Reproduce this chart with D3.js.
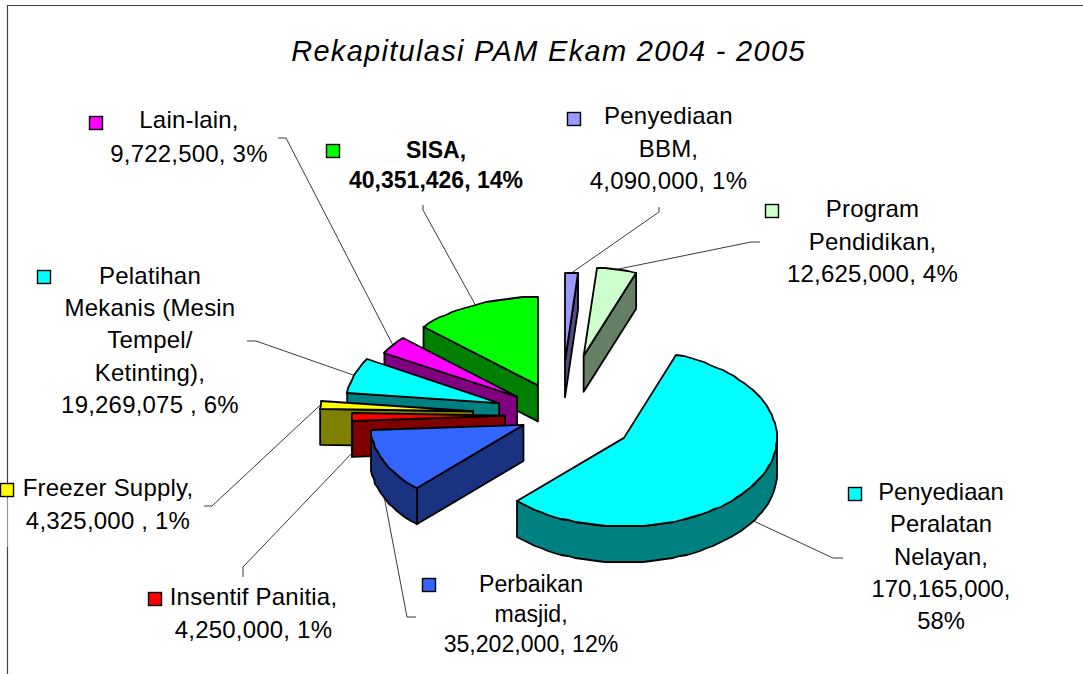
<!DOCTYPE html>
<html>
<head>
<meta charset="utf-8">
<script src="https://cdnjs.cloudflare.com/ajax/libs/d3/7.8.5/d3.min.js"></script>
<style>
html, body { margin: 0; padding: 0; background: #fff; }
svg { display: block; }
text { font-family: "Liberation Sans", Arial, sans-serif; fill: #000; }
</style>
</head>
<body>
<div id="chart"></div>
<script>
var categories = ['Penyediaan BBM', 'Program Pendidikan', 'Penyediaan Peralatan Nelayan', 'Perbaikan masjid',
    'Insentif Panitia', 'Freezer Supply', 'Pelatihan Mekanis (Mesin Tempel/ Ketinting)', 'Lain-lain', 'SISA'];
var values = [4090000, 12625000, 170165000, 35202000, 4250000, 4325000, 19269075, 9722500, 40351426];
var colors = ['#9999ff', '#ccffcc', '#00ffff', '#3366ff', '#ff0000', '#ffff00', '#00ffff', '#ff00ff', '#00ff00'];
var explode = [0.607, 0.685, 0.486, 0.27, 0.366, 0.576, 0.426, 0.354, 0.367];

// text of the labels, one entry per line
var labelLines = [
    ['Penyediaan', 'BBM,', '4,090,000, 1%'],
    ['Program', 'Pendidikan,', '12,625,000, 4%'],
    ['Penyediaan', 'Peralatan', 'Nelayan,', '170,165,000,', '58%'],
    ['Perbaikan', 'masjid,', '35,202,000, 12%'],
    ['Insentif Panitia,', '4,250,000, 1%'],
    ['Freezer Supply,', '4,325,000 , 1%'],
    ['Pelatihan', 'Mekanis (Mesin', 'Tempel/', 'Ketinting),', '19,269,075 , 6%'],
    ['Lain-lain,', '9,722,500, 3%'],
    ['SISA,', '40,351,426, 14%']
];

var width = 1083;
var height = 674;
var cx = 561;
var cy = 415;
var rx = 153;
var ry = 88.5;
var depth = 36;

// label layout: x centre and baseline of each line, key square, leader elbow points
var labelX = [668.5, 872.5, 941, 531, 253.5, 108, 150, 189, 436];
var labelY = [
    [124, 157, 189], [217, 250, 282], [500, 532, 565, 597, 629], [592, 622, 652],
    [605, 638], [496, 529], [284, 316, 348, 381, 413], [128, 162], [158, 188]
];
var labelSize = [24, 24, 23.8, 23.1, 24, 24, 24, 24, 23];
var keys = [[567, 112], [765, 204], [848, 487], [422, 578], [148, 592], [0, 483], [37, 270], [89, 116], [326, 144]];
var elbows = [
    [[659, 207], [659, 212]],
    [[760, 242], [751, 242]],
    [[843, 558], [833, 558]],
    [[416, 617], [407, 617]],
    [[243, 577], [243, 567]],
    [[204, 506], [212, 506]],
    [[247, 341], [256, 341]],
    [[278, 138], [286, 138]],
    [[423, 205], [423, 210]]
];

var svg = d3.select('#chart')
    .append('svg')
    .attr('width', width)
    .attr('height', height);

// frame of the chart area
svg.append('path')
    .attr('d', 'M7.5,674V5.5H1083')
    .attr('fill', 'none')
    .attr('stroke', '#404040')
    .attr('stroke-width', 1.2);

var pie = d3.pie().sort(null);
var slices = pie(values).map(function (d, i) {
    var mid = (d.startAngle + d.endAngle) / 2;
    return {
        index: i,
        start: d.startAngle,
        end: d.endAngle,
        mid: mid,
        x: cx + rx * explode[i] * Math.sin(mid),
        y: cy - ry * explode[i] * Math.cos(mid)
    };
});

function rim(s, a, drop) {
    return [s.x + rx * Math.sin(a), s.y - ry * Math.cos(a) + (drop || 0)];
}

// rounded to whole pixels, the rim of the reference is a little rough
function arcPoints(s, a0, a1, drop) {
    var n = Math.max(1, Math.round((a1 - a0) / 0.05));
    return d3.range(n + 1).map(function (k) {
        var p = rim(s, a0 + (a1 - a0) * k / n, drop);
        return [Math.round(p[0]), Math.round(p[1])];
    });
}

var line = d3.line();

function darker(c) {
    var r = d3.rgb(c);
    return d3.rgb(r.r / 2, r.g / 2, r.b / 2).formatHex();
}

// painted from the back to the front
var order = slices.slice().sort(function (a, b) {
    return d3.ascending(-Math.cos(a.mid), -Math.cos(b.mid));
});

var pieces = svg.selectAll('.slice')
    .data(order)
    .enter()
    .append('g')
    .attr('class', 'slice')
    .attr('stroke', '#000')
    .attr('stroke-width', 1.8)
    .attr('stroke-linejoin', 'round');

pieces.each(function (s) {
    var g = d3.select(this);
    var side = darker(colors[s.index]);
    var apex = [s.x, s.y];
    var apexLow = [s.x, s.y + depth];

    // cut walls, only the ones turned to the viewer
    if (Math.sin(s.start) < 0) {
        g.append('path')
            .attr('fill', side)
            .attr('d', line([apex, rim(s, s.start), rim(s, s.start, depth), apexLow]) + 'Z');
    }
    if (Math.sin(s.end) > 0) {
        g.append('path')
            .attr('fill', side)
            .attr('d', line([apex, rim(s, s.end), rim(s, s.end, depth), apexLow]) + 'Z');
    }

    // outer wall on the front half
    var a0 = Math.max(s.start, Math.PI / 2);
    var a1 = Math.min(s.end, Math.PI * 1.5);
    if (a1 > a0) {
        var wall = arcPoints(s, a0, a1).concat(arcPoints(s, a0, a1, depth).reverse());
        g.append('path')
            .attr('fill', side)
            .attr('d', line(wall) + 'Z');
    }

    // top face
    g.append('path')
        .attr('fill', colors[s.index])
        .attr('d', line([apex].concat(arcPoints(s, s.start, s.end))) + 'Z');
});

// leader lines run from the middle of each slice rim to the label
svg.selectAll('.leader')
    .data(slices)
    .enter()
    .append('path')
    .attr('class', 'leader')
    .attr('fill', 'none')
    .attr('stroke', '#222')
    .attr('stroke-width', 0.9)
    .attr('d', function (s) {
        var front = Math.cos(s.mid) < 0;
        return line(elbows[s.index].concat([rim(s, s.mid, front ? depth : 0)]));
    });

// faded bit of the frame behind the Freezer Supply label
svg.append('rect')
    .attr('x', 6)
    .attr('y', 498)
    .attr('width', 4)
    .attr('height', 49)
    .attr('fill', '#fff')
    .attr('opacity', 0.45);

// legend keys
svg.selectAll('.key')
    .data(slices)
    .enter()
    .append('rect')
    .attr('class', 'key')
    .attr('x', function (s) { return keys[s.index][0] + 0.5; })
    .attr('y', function (s) { return keys[s.index][1] + 0.5; })
    .attr('width', 13)
    .attr('height', 13)
    .attr('fill', function (s) { return colors[s.index]; })
    .attr('stroke', '#000')
    .attr('stroke-width', 1.4);

// labels
slices.forEach(function (s) {
    var i = s.index;
    svg.selectAll('.label' + i)
        .data(labelLines[i])
        .enter()
        .append('text')
        .attr('class', 'label' + i)
        .attr('text-anchor', 'middle')
        .attr('x', labelX[i])
        .attr('y', function (d, k) { return labelY[i][k]; })
        .style('font-size', labelSize[i] + 'px')
        .style('letter-spacing', labelSize[i] === 24 ? '0.2px' : '0')
        .style('font-weight', categories[i] === 'SISA' ? 'bold' : 'normal')
        .text(function (d) { return d; });
});

svg.append('text')
    .attr('x', 548.5)
    .attr('y', 61)
    .attr('text-anchor', 'middle')
    .style('font-size', '29px')
    .style('font-style', 'italic')
    .style('letter-spacing', '1.3px')
    .text('Rekapitulasi PAM Ekam 2004 - 2005');
</script>
</body>
</html>
